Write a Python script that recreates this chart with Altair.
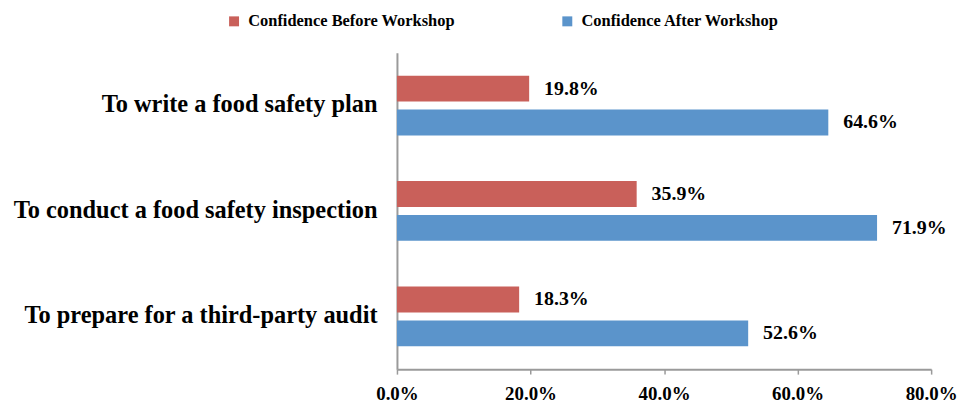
import altair as alt
import pandas as pd

categories = ["To write a food safety plan", "To conduct a food safety inspection", "To prepare for a third-party audit"]
series = ["Confidence Before Workshop", "Confidence After Workshop"]
before = [19.8, 35.9, 18.3]
after = [64.6, 71.9, 52.6]
colors = ["#C9605A", "#5B94CB"]

rows = []
for c, b, a in zip(categories, before, after):
    rows.append({"cat": c, "series": series[0], "value": b / 100})
    rows.append({"cat": c, "series": series[1], "value": a / 100})
df = pd.DataFrame(rows)

FONT = "Liberation Serif"

y = alt.Y("cat:N", sort=categories, title=None,
          scale=alt.Scale(paddingInner=0.0, paddingOuter=0.0),
          axis=alt.Axis(labelFont=FONT, labelFontSize=24.5, labelFontWeight="bold",
                        labelColor="black", ticks=False, labelPadding=20,
                        domainColor="#9a9a9a", domainWidth=2, labelLimit=500))
yoff = alt.YOffset("series:N", sort=series,
                   scale=alt.Scale(paddingInner=0.235, paddingOuter=0.676))
x = alt.X("value:Q", title=None,
          scale=alt.Scale(domain=[0, 0.8]),
          axis=alt.Axis(format=".1%", values=[0, 0.2, 0.4, 0.6, 0.8], grid=False,
                        labelFlush=False,
                        labelFont=FONT, labelFontSize=19, labelFontWeight="bold",
                        labelColor="black", domainColor="#9a9a9a", domainWidth=2,
                        tickColor="#9a9a9a", tickSize=5, tickWidth=1.5, labelPadding=11))

bars = alt.Chart(df).mark_bar(opacity=1).encode(
    y=y, yOffset=yoff, x=x,
    color=alt.Color("series:N", sort=series,
                    scale=alt.Scale(domain=series, range=colors),
                    legend=alt.Legend(title=None, orient="none", legendX=-172, legendY=-40,
                                      direction="horizontal", symbolType="square",
                                      symbolSize=100, symbolStrokeWidth=0,
                                      labelFont=FONT, labelFontSize=16.5, labelFontWeight="bold",
                                      labelColor="black", columnPadding=104, labelOffset=6,
                                      labelLimit=400, padding=0)),
)

text = alt.Chart(df).mark_text(align="left", dx=15, font=FONT, fontSize=20,
                               fontWeight="bold", color="black").encode(
    y=y, yOffset=yoff, x=x, text=alt.Text("value:Q", format=".1%"))

chart = (bars + text).properties(
    width=537, height=318,
    padding={"top": 4, "left": 5, "right": 0, "bottom": 0},
).configure_view(stroke=None)

chart.save("out.html", embed_options={"renderer": "svg", "actions": False})
